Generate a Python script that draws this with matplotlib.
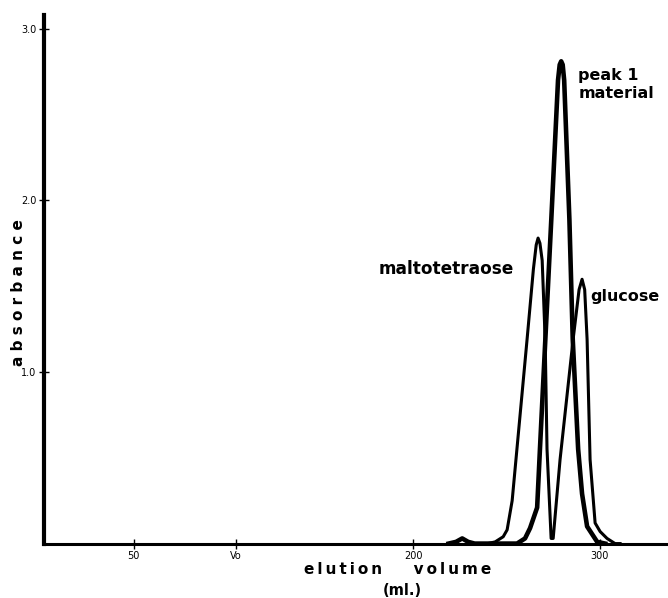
import matplotlib
matplotlib.use("Agg")
import matplotlib.pyplot as plt

# standards run: maltotetraose + glucose (one trace)
std_ml = [240, 244.0, 248.3, 250.4, 253.1, 261.1, 264.5, 266.0, 267.0, 268.0, 269.2, 270.8,
          271.8, 274.0, 275.1, 278.8, 285.8, 289.0, 290.6, 292.0, 293.3, 294.9, 297.6,
          300.3, 304.0, 308.3, 311]
std_abs = [0.0, 0.01, 0.04, 0.08, 0.25, 1.19, 1.60, 1.74, 1.78, 1.75, 1.65, 1.19,
           0.55, 0.03, 0.03, 0.49, 1.19, 1.48, 1.54, 1.48, 1.19, 0.49, 0.12,
           0.07, 0.03, 0.0, 0.0]

# peak 1 material
p1_ml = [219, 223, 226.3, 229.5, 233, 249.3, 255.7, 260.0, 262.7, 266.5, 267.3, 268.0,
         270.9, 274.1, 277.7, 278.6, 279.4, 280.2, 281.0, 283.8, 285.6, 288.5, 290.6,
         293.3, 298.7, 303]
p1_abs = [0.0, 0.01, 0.03, 0.01, 0.0, 0.0, 0.0, 0.03, 0.09, 0.21, 0.39, 0.55,
          1.19, 1.89, 2.70, 2.79, 2.81, 2.79, 2.70, 1.89, 1.19, 0.55, 0.29,
          0.10, 0.01, 0.0]

xticks = [50, 105, 200, 300]
xticklabels = ["50", "Vo", "200", "300"]
yticks = [1.0, 2.0, 3.0]
yticklabels = ["1.0", "2.0", "3.0"]

fig = plt.figure(figsize=(6.68, 5.98), dpi=100)
ax = fig.add_axes([0.066, 0.091, 0.934, 0.884])

ax.plot(std_ml, std_abs, color="black", lw=2.2, solid_joinstyle="round")
ax.plot(p1_ml, p1_abs, color="black", lw=3.3, solid_joinstyle="round")

ax.set_xlim(2, 336.7)
ax.set_ylim(0, 3.08)
ax.spines["top"].set_visible(False)
ax.spines["right"].set_visible(False)
ax.spines["left"].set_linewidth(3.0)
ax.spines["bottom"].set_linewidth(2.2)

ax.set_xticks(xticks)
ax.set_xticklabels(xticklabels)
ax.set_yticks(yticks)
ax.set_yticklabels(yticklabels)
ax.tick_params(direction="inout", length=7, width=1, labelsize=7, pad=2)

lbl = dict(fontsize=11.5, fontweight="bold", color="black")
ax.text(288.5, 2.77, "peak 1\nmaterial", va="top", ha="left", linespacing=1.25, **lbl)
ax.text(181.2, 1.60, "maltotetraose", va="center", ha="left",
        fontsize=12.2, fontweight="bold", color="black")
ax.text(294.9, 1.44, "glucose", va="center", ha="left", **lbl)

ts = "\u2009"
fig.text(0.595, 0.047, ts.join("elution") + "      " + ts.join("volume"),
         ha="center", va="center", fontsize=11, fontweight="bold")
fig.text(0.602, 0.012, "(ml.)", ha="center", va="center", fontsize=10.5, fontweight="bold")
fig.text(0.028, 0.51, " ".join("absorbance"), ha="center", va="center", rotation=90,
         fontsize=11, fontweight="bold")

fig.savefig("out.png", dpi=100)
